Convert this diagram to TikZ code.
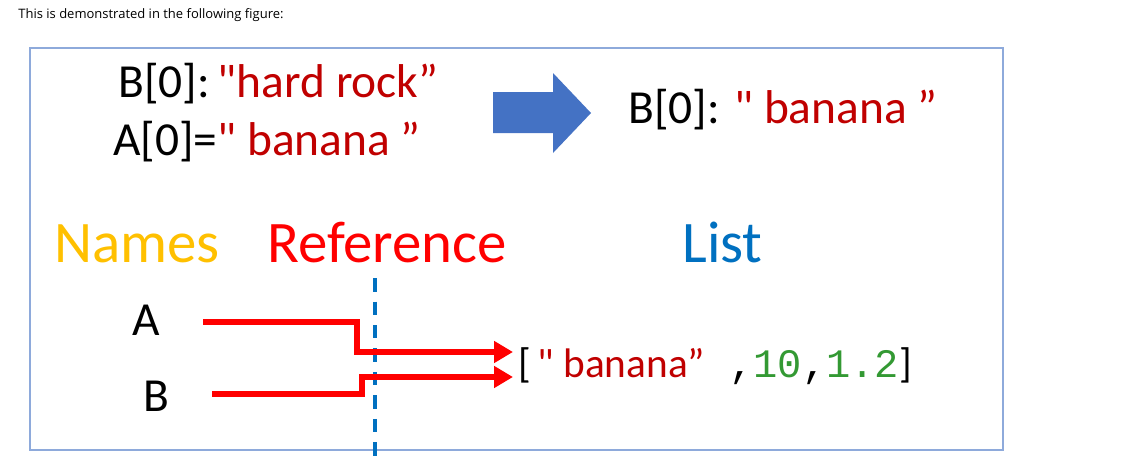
\documentclass[tikz,border=0pt]{standalone}
\usepackage{fontspec}
\setmainfont{Carlito}
\newfontfamily\capfont{Open Sans}
\newfontfamily\codefont{Liberation Mono}
\newfontfamily\qfont{Carlito}
\usetikzlibrary{arrows.meta, positioning}
\definecolor{framecolor}{RGB}{142,170,219}
\definecolor{valred}{RGB}{192,0,0}
\definecolor{namecolor}{RGB}{255,192,0}
\definecolor{refcolor}{RGB}{255,0,0}
\definecolor{listcolor}{RGB}{0,112,192}
\definecolor{bigarrow}{RGB}{68,114,196}
\definecolor{codegreen}{RGB}{51,153,51}
\newcommand{\sq}{{\qfont"}}

\begin{document}
\begin{tikzpicture}[x=0.02cm, y=-0.02cm,
  txt/.style={inner sep=0pt, anchor=base west, font=\fontsize{27}{32}\selectfont},
  head/.style={inner sep=0pt, anchor=base west, font=\fontsize{33.5}{38}\selectfont},
  refline/.style={draw=refcolor, line width=3pt, line join=miter,
                  -{Triangle[length=0.38cm, width=0.42cm]}}
]
\useasboundingbox (0,0) rectangle (1138,471);

% caption and frame
\node[inner sep=0pt, anchor=base west, font=\capfont\fontsize{7.4}{9}\selectfont]
  (cap) at (18,18) {This is demonstrated in the following figure:};
\draw[framecolor, line width=1.1pt] (30,48) rectangle (1003,450);

% assignment
\node[txt] (rock) at (118,97) {B[0]:\,\textcolor{valred}{\sq hard rock”}};
\node[txt] (assign) at (113,155) {A[0]=\textcolor{valred}{\sq\ banana ”}};
\fill[bigarrow] (493,92) -- (553,92) -- (553,73) -- (591,113) -- (553,153)
  -- (553,133) -- (493,133) -- cycle;
\node[txt] (result) at (628,123) {B[0]: \textcolor{valred}{\sq\ banana ”}};

% headings
\node[head, text=namecolor] (names) at (54,262) {Names};
\node[head, text=refcolor] (refs) at (267,262) {Reference};
\node[head, text=listcolor] (lists) at (682,262) {List};

% names and the list
\node[txt] (nA) at (132,335) {A};
\node[txt] (nB) at (143,411) {B};
\node[txt, font=\fontsize{23.5}{28}\selectfont, outer sep=0.1cm] (lst) at (513,377)
  {[\textcolor{valred}{\,\sq\ banana”}{\codefont\fontsize{23}{28}\selectfont\ ,\textcolor{codegreen}{10},\textcolor{codegreen}{1.2}}]};

\draw[listcolor, line width=2.2pt, dash pattern=on 0.27cm off 0.2cm]
  (375,278) -- (375,458);

% references
\coordinate (aout) at (203,322);
\coordinate (akink) at (357,352);
\coordinate (bout) at (212,394);
\coordinate (bkink) at (362,377);
\draw[refline] (aout) -| (akink) -- (akink -| lst.west);
\draw[refline] (bout) -| (bkink) -- (bkink -| lst.west);

\end{tikzpicture}
\end{document}
